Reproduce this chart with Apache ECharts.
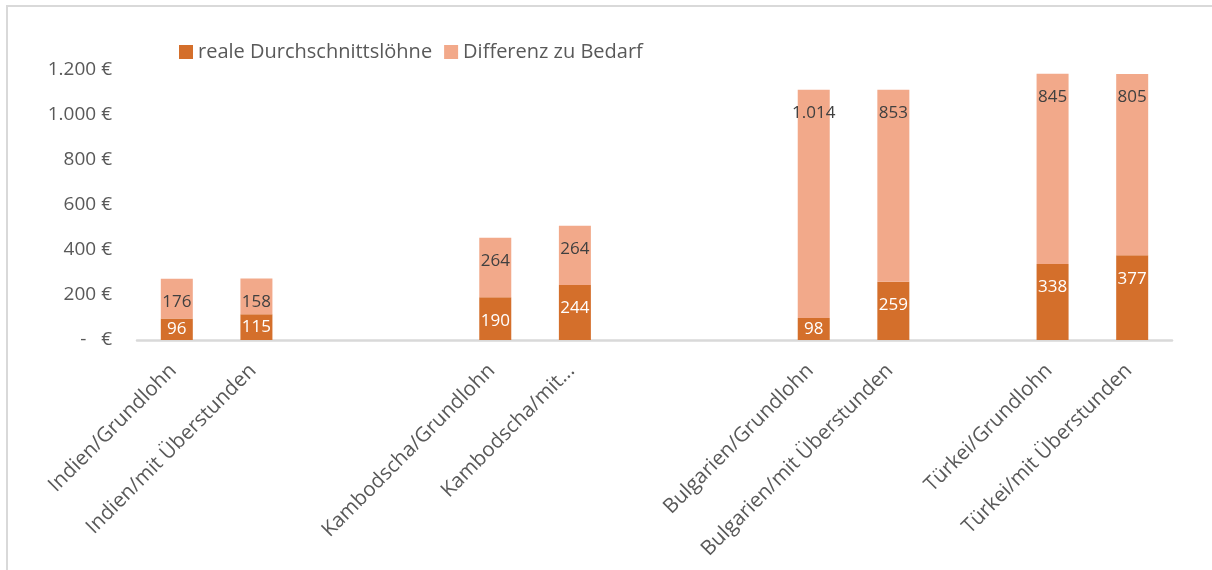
<!DOCTYPE html>
<html lang="de">
<head>
    <meta charset="UTF-8">
    <title>Löhne</title>
</head>
<style>
    html, body { margin: 0; padding: 0; background: #fff; }
    #chart { width: 1212px; height: 570px; }
</style>
<body>
<div id="chart"></div>
</body>
<script src="https://cdn.jsdelivr.net/npm/echarts@6/dist/echarts.min.js"></script>
<script>
    // leere Kategorien = Abstand zwischen den Ländern
    var categories = ['Indien/Grundlohn', 'Indien/mit Überstunden', ' ', '  ',
        'Kambodscha/Grundlohn', 'Kambodscha/mit...', '   ', '    ',
        'Bulgarien/Grundlohn', 'Bulgarien/mit Überstunden', '     ',
        'Türkei/Grundlohn', 'Türkei/mit Überstunden'];
    var realeLoehne = [96, 115, null, null, 190, 244, null, null, 98, 259, null, 338, 377];
    var differenz = [176, 158, null, null, 264, 264, null, null, 1014, 853, null, 845, 805];
    var yTicks = [0, 200, 400, 600, 800, 1000, 1200];

    var font = 'Open Sans';
    var textColor = '#595959';

    function fmtNum(v) {
        return String(v).replace(/\B(?=(\d{3})+(?!\d))/g, '.');
    }

    var darkData = realeLoehne.map(function (v) {
        if (v === null) return null;
        return {
            value: v,
            label: v < 150 ? {position: 'inside'} : {position: 'insideTop', distance: 15}
        };
    });

    var myChart = echarts.init(document.getElementById('chart'));
    var option = {
        animation: false,
        color: ['#D46F2B', '#F2A98A'],
        legend: {
            left: 174,
            top: 37,
            itemWidth: 14,
            itemHeight: 14,
            itemGap: 12,
            icon: 'rect',
            textStyle: {fontFamily: font, fontSize: 20, color: textColor},
            data: ['reale Durchschnittslöhne', 'Differenz zu Bedarf']
        },
        grid: {left: 137, right: 40, top: 70, bottom: 230},
        xAxis: {
            type: 'category',
            data: categories,
            axisLine: {lineStyle: {color: '#d9d9d9', width: 2.5}},
            axisTick: {show: false},
            axisLabel: {
                interval: 0,
                rotate: 45,
                margin: 24,
                padding: [0, 5, 0, 0],
                fontFamily: font,
                fontSize: 20.5,
                color: textColor
            }
        },
        yAxis: {
            type: 'value',
            min: yTicks[0],
            max: yTicks[yTicks.length - 1],
            interval: 200,
            splitLine: {show: false},
            axisLine: {show: false},
            axisTick: {show: false},
            axisLabel: {
                margin: 25,
                fontFamily: font,
                fontSize: 19,
                color: textColor,
                formatter: function (v) {
                    return v === 0 ? '-   €' : fmtNum(v) + ' €';
                }
            }
        },
        graphic: [{
            type: 'rect',
            shape: {x: 7, y: 6, width: 1400, height: 800},
            style: {fill: 'none', stroke: '#d9d9d9', lineWidth: 2},
            silent: true
        }],
        series: [{
            name: 'reale Durchschnittslöhne',
            type: 'bar',
            stack: 'a',
            barWidth: 32,
            data: darkData,
            label: {
                show: true,
                fontFamily: font,
                fontSize: 17,
                color: '#fff',
                formatter: function (p) { return fmtNum(p.value); }
            }
        }, {
            name: 'Differenz zu Bedarf',
            type: 'bar',
            stack: 'a',
            barWidth: 32,
            data: differenz,
            label: {
                show: true,
                position: 'insideTop',
                distance: 15,
                fontFamily: font,
                fontSize: 17,
                color: '#404040',
                formatter: function (p) { return fmtNum(p.value); }
            }
        }]
    };
    myChart.setOption(option);
</script>
</html>
